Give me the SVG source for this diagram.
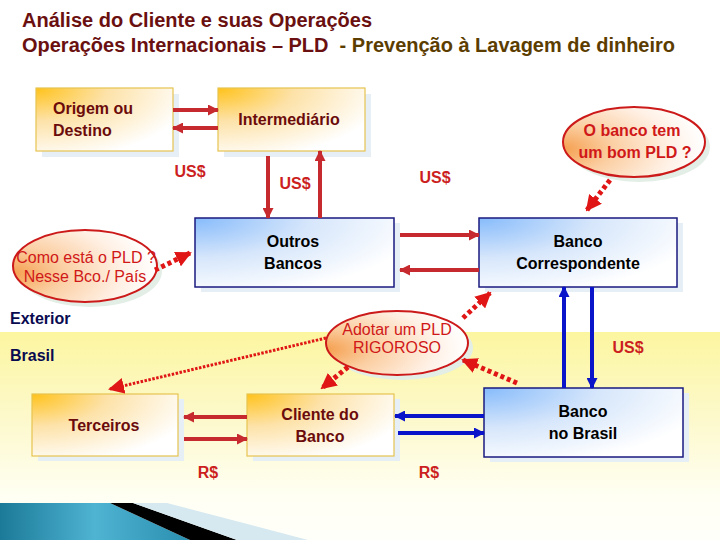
<svg xmlns="http://www.w3.org/2000/svg" width="720" height="540" viewBox="0 0 720 540">
<defs>
<linearGradient id="band" x1="0" y1="0" x2="0" y2="1">
<stop offset="0" stop-color="#fcf6a0"/>
<stop offset="0.45" stop-color="#fdf9cf"/>
<stop offset="0.8" stop-color="#fffff4"/>
<stop offset="1" stop-color="#fffffa"/>
</linearGradient>
<radialGradient id="gy" cx="0" cy="0" r="1.15" fx="0" fy="0">
<stop offset="0" stop-color="#ffc21a"/>
<stop offset="0.45" stop-color="#fde2a8"/>
<stop offset="1" stop-color="#ffffff"/>
</radialGradient>
<radialGradient id="gb" cx="0" cy="0" r="1.15" fx="0" fy="0">
<stop offset="0" stop-color="#86bbfb"/>
<stop offset="0.5" stop-color="#d6e6fb"/>
<stop offset="1" stop-color="#ffffff"/>
</radialGradient>
<radialGradient id="ge" cx="0" cy="0.6" r="1.0" fx="0" fy="0.6">
<stop offset="0" stop-color="#f5a050"/>
<stop offset="0.35" stop-color="#fbcfa3"/>
<stop offset="0.75" stop-color="#fff0e4"/>
<stop offset="1" stop-color="#ffffff"/>
</radialGradient>
<linearGradient id="teal" x1="0" y1="0" x2="1" y2="0">
<stop offset="0" stop-color="#1b7a98"/>
<stop offset="0.5" stop-color="#4fb3d2"/>
<stop offset="1" stop-color="#2a8fb0"/>
</linearGradient>
<marker id="ar" markerUnits="userSpaceOnUse" markerWidth="11" markerHeight="11" refX="10" refY="5.5" orient="auto">
<path d="M0,0 L11,5.5 L0,11 z" fill="#c62a2f"/>
</marker>
<marker id="ab" markerUnits="userSpaceOnUse" markerWidth="11" markerHeight="11" refX="10" refY="5.5" orient="auto">
<path d="M0,0 L11,5.5 L0,11 z" fill="#0a14c8"/>
</marker>
<marker id="ad" markerUnits="userSpaceOnUse" markerWidth="16" markerHeight="16" refX="14" refY="8" orient="auto">
<path d="M0,0 L16,8 L0,16 z" fill="#e01515"/>
</marker>
</defs>
<style>
.t{font-family:"Liberation Sans",Arial,sans-serif;font-weight:bold}
.title{font-size:20px;fill:#6b1010}
.ny{font-size:16px;fill:#6b0b0b}
.nb{font-size:16px;fill:#000000}
.lbl{font-size:16px;fill:#cc1f1f}
.reg{font-size:16px;font-weight:bold;fill:#0a0a50}
.call{font-family:"Liberation Sans",Arial,sans-serif;font-size:16px;fill:#d01818}
.by{fill:url(#gy);stroke:#e6c450;stroke-width:1.2}
.bb{fill:url(#gb);stroke:#1a1a80;stroke-width:1.5}
.sh{fill:#e6eef6}
.el{fill:url(#ge);stroke:#cc1a1a;stroke-width:2}
.esh{fill:#e2eee6}
.ra{stroke:#c62a2f;stroke-width:4;fill:none;marker-end:url(#ar)}
.ba{stroke:#0a14c8;stroke-width:4;fill:none;marker-end:url(#ab)}
.da{stroke:#e01515;stroke-width:5;stroke-dasharray:4 3;fill:none;marker-end:url(#ad)}
.dl{stroke:#e01515;stroke-width:3;stroke-dasharray:2.5 1.5;fill:none;marker-end:url(#ad)}
</style>
<rect x="0" y="0" width="720" height="540" fill="#ffffff"/>
<rect x="0" y="332" width="720" height="208" fill="url(#band)"/>
<g id="bottom-decoration">
<polygon points="0,503 110,503 190,540 0,540" fill="url(#teal)"/>
<polygon points="110,503 133,503 237,540 190,540" fill="#000000"/>
<polygon points="133,503 167,503 308,540 237,540" fill="#d6e9f0"/>
</g>
<g id="title" class="t">
<text x="22" y="27" class="title" textLength="350" lengthAdjust="spacingAndGlyphs">Análise do Cliente e suas Operações</text>
<text x="22" y="52" class="title" textLength="653" lengthAdjust="spacingAndGlyphs" xml:space="preserve">Operações Internacionais – PLD  <tspan fill="#5c3d00">- Prevenção à Lavagem de dinheiro</tspan></text>
</g>
<g id="region-labels" class="t">
<text x="10" y="324" class="reg">Exterior</text>
<text x="10" y="361" class="reg">Brasil</text>
</g>
<g id="origem">
<rect class="sh" x="42" y="94" width="137" height="63"/>
<rect class="by" x="36" y="88" width="137" height="63"/>
<text class="t ny" x="53" y="114">Origem ou</text>
<text class="t ny" x="53" y="136">Destino</text>
</g>
<g id="intermediario">
<rect class="sh" x="224" y="94" width="147" height="63"/>
<rect class="by" x="218" y="88" width="147" height="63"/>
<text class="t ny" x="289" y="125" text-anchor="middle">Intermediário</text>
</g>
<g id="outros-bancos">
<rect class="sh" x="201" y="223" width="199" height="69"/>
<rect class="bb" x="195" y="218" width="199" height="69"/>
<text class="t nb" x="293" y="247" text-anchor="middle">Outros</text>
<text class="t nb" x="293" y="269" text-anchor="middle">Bancos</text>
</g>
<g id="banco-correspondente">
<rect class="sh" x="485" y="223" width="198" height="69"/>
<rect class="bb" x="479" y="218" width="198" height="69"/>
<text class="t nb" x="578" y="247" text-anchor="middle">Banco</text>
<text class="t nb" x="578" y="269" text-anchor="middle">Correspondente</text>
</g>
<g id="banco-brasil">
<rect class="sh" x="490" y="393" width="199" height="69"/>
<rect class="bb" x="484" y="388" width="199" height="69"/>
<text class="t nb" x="583" y="417" text-anchor="middle">Banco</text>
<text class="t nb" x="583" y="439" text-anchor="middle">no Brasil</text>
</g>
<g id="cliente">
<rect class="sh" x="253" y="399" width="147" height="62"/>
<rect class="by" x="247" y="394" width="147" height="62"/>
<text class="t ny" x="320" y="420" text-anchor="middle">Cliente do</text>
<text class="t ny" x="320" y="442" text-anchor="middle">Banco</text>
</g>
<g id="terceiros">
<rect class="sh" x="38" y="399" width="146" height="62"/>
<rect class="by" x="32" y="394" width="146" height="62"/>
<text class="t ny" x="104" y="431" text-anchor="middle">Terceiros</text>
</g>
<g id="callout-banco-pld">
<ellipse class="esh" cx="639" cy="147" rx="71" ry="35"/>
<ellipse class="el" cx="634" cy="142" rx="71" ry="35"/>
<text class="call" font-weight="bold" x="632" y="136" text-anchor="middle">O banco tem</text>
<text class="call" font-weight="bold" x="635" y="158" text-anchor="middle">um bom PLD ?</text>
</g>
<g id="callout-como-esta">
<ellipse class="esh" cx="90" cy="271" rx="72" ry="36"/>
<ellipse class="el" cx="85" cy="266" rx="72" ry="36"/>
<text class="call" x="86" y="263" text-anchor="middle">Como está o PLD ?</text>
<text class="call" x="85" y="282" text-anchor="middle">Nesse Bco./ País</text>
</g>
<g id="callout-adotar">
<ellipse class="esh" cx="402" cy="348" rx="71" ry="32"/>
<ellipse class="el" cx="397" cy="343" rx="71" ry="32"/>
<text class="call" x="397" y="335" text-anchor="middle">Adotar um PLD</text>
<text class="call" x="397" y="353" text-anchor="middle">RIGOROSO</text>
</g>
<g id="connectors">
<line class="ra" x1="173" y1="110" x2="218" y2="110"/>
<line class="ra" x1="218" y1="128" x2="173" y2="128"/>
<line class="ra" x1="268" y1="156" x2="268" y2="218"/>
<line class="ra" x1="320" y1="218" x2="320" y2="151"/>
<line class="ra" x1="400" y1="235" x2="479" y2="235"/>
<line class="ra" x1="479" y1="270" x2="400" y2="270"/>
<line class="ra" x1="247" y1="417" x2="184" y2="417"/>
<line class="ra" x1="184" y1="439" x2="247" y2="439"/>
<line class="ba" x1="564" y1="388" x2="564" y2="287"/>
<line class="ba" x1="592" y1="287" x2="592" y2="388"/>
<line class="ba" x1="484" y1="416" x2="395" y2="416"/>
<line class="ba" x1="398" y1="433" x2="484" y2="433"/>
<line class="da" x1="610" y1="180" x2="587" y2="210"/>
<line class="da" x1="155" y1="270" x2="190" y2="253"/>
<line class="da" x1="463" y1="318" x2="490" y2="293"/>
<line class="da" x1="517" y1="383" x2="463" y2="360"/>
<line class="da" x1="348" y1="367" x2="322" y2="388"/>
<line class="dl" x1="326" y1="338" x2="110" y2="389"/>
</g>
<g id="amount-labels" class="t">
<text class="lbl" x="190" y="177" text-anchor="middle">US$</text>
<text class="lbl" x="295" y="189" text-anchor="middle">US$</text>
<text class="lbl" x="435" y="183" text-anchor="middle">US$</text>
<text class="lbl" x="628" y="353" text-anchor="middle">US$</text>
<text class="lbl" x="208" y="478" text-anchor="middle">R$</text>
<text class="lbl" x="429" y="478" text-anchor="middle">R$</text>
</g>
</svg>
